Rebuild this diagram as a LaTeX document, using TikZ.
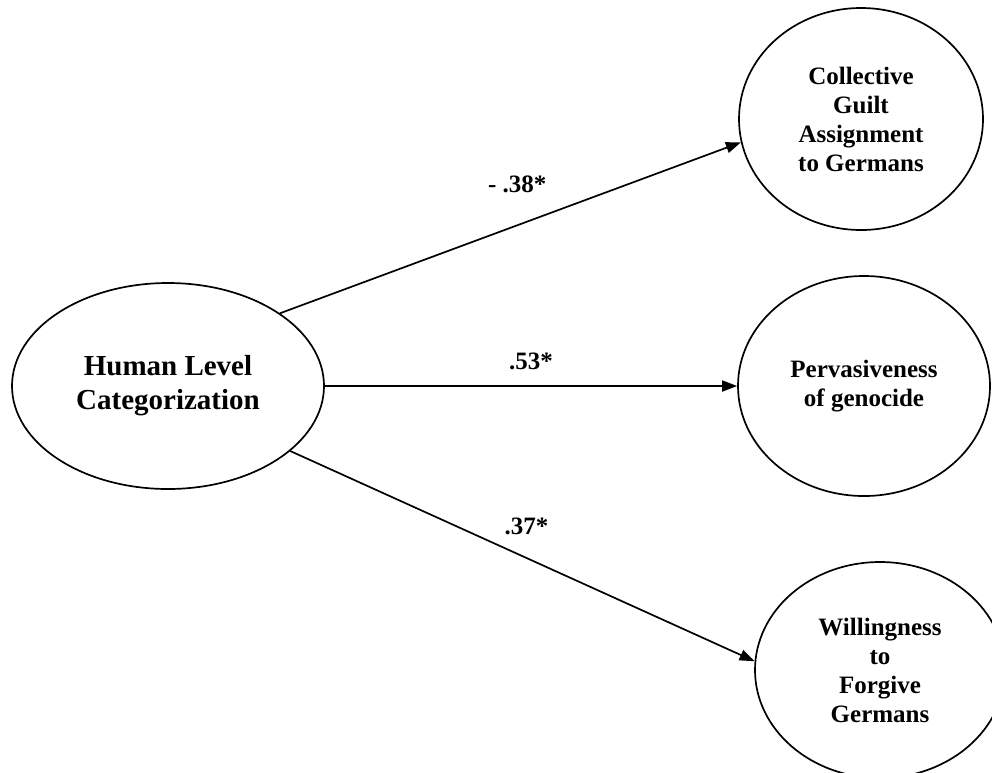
\documentclass[tikz,border=0pt]{standalone}
\usepackage{fontspec}
\setmainfont{Liberation Serif}
\usetikzlibrary{arrows.meta, shapes.geometric}
\tikzset{
  factor/.style  = {ellipse, draw, line width=1.7pt, align=center, inner sep=0pt,
                    font=\fontsize{29}{34}\selectfont\bfseries},
  outcome/.style = {ellipse, draw, line width=1.7pt, align=center, inner sep=0pt,
                    font=\fontsize{25}{29}\selectfont\bfseries},
  lbl/.style     = {font=\fontsize{25}{29}\selectfont\bfseries, inner sep=0pt},
  effect/.style  = {-{Triangle[length=15pt, width=11pt]}, line width=1.7pt},
}

\begin{document}
\begin{tikzpicture}[x=1pt, y=1pt]
  \useasboundingbox (0,0) rectangle (992,-772);
  \node[factor,  minimum width=312pt, minimum height=206pt] (human)   at (168,-386) {Human Level\\Categorization};
  \node[outcome, minimum width=244pt, minimum height=222pt] (guilt)   at (861,-119) {Collective\\Guilt\\Assignment\\to Germans};
  \node[outcome, minimum width=252pt, minimum height=220pt] (perv)    at (864,-386) {Pervasiveness\\of genocide};
  \node[outcome, minimum width=250pt, minimum height=216pt] (forgive) at (880,-670) {Willingness\\to\\Forgive\\Germans};
  % paths with coefficients
  \foreach \a/\b/\n/\v/\p/\h in {human.33/guilt.191/cguilt/{- .38*}/0.515/41,
                                 human.0/perv.180/cperv/{.53*}/0.5/25,
                                 human.332/forgive.176/cforgive/{.37*}/0.509/32}{
    \draw[effect] (\a) -- node[lbl, pos=\p, yshift=\h pt] (\n) {\v} (\b);}
\end{tikzpicture}
\end{document}
